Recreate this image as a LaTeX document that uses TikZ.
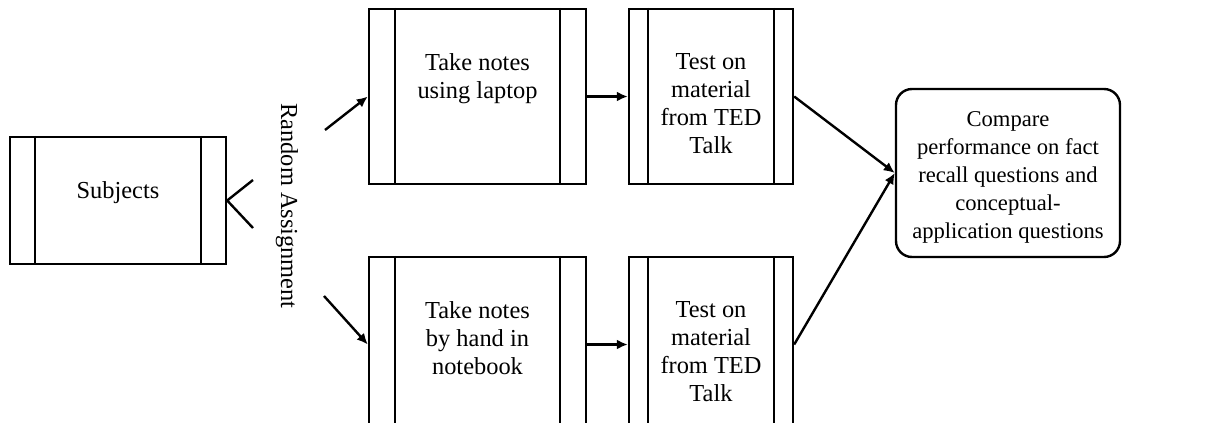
\documentclass[tikz,border=0pt]{standalone}
\usepackage{fontspec}
\setmainfont{Liberation Serif}
\usetikzlibrary{arrows.meta,positioning}
\tikzset{>={Latex[length=5.5pt,width=5pt]}}
\tikzset{proc/.style={draw,inner sep=0pt},
 boxtext/.style={align=center,inner sep=0pt}}

\begin{document}
\begin{tikzpicture}[x=0.5pt,y=-0.5pt,line width=1.2pt,font=\fontsize{12.2}{14}\selectfont]
\useasboundingbox (0,0) rectangle (1212,423);
\clip (0,0) rectangle (1212,423);
\node[proc,minimum width=108pt,minimum height=63.5pt] (subj) at (118,200.5) {};
\node[proc,minimum width=108.5pt,minimum height=87.5pt] (laptop) at (477.5,96.5) {};
\node[proc,minimum width=108.5pt,minimum height=87.5pt] (hand) at (477.5,344.5) {};
\node[proc,minimum width=82pt,minimum height=87.5pt] (test1) at (711,96.5) {};
\node[proc,minimum width=82pt,minimum height=87.5pt] (test2) at (711,344.5) {};
\node[proc,rounded corners=8pt,minimum width=112pt,minimum height=84pt] (cmp) at (1008,173) {};
\foreach \b/\w in {subj/13pt,laptop/13.5pt,hand/13.5pt,test1/10pt,test2/10pt}
 \draw ([xshift=\w]\b.north west) -- ([xshift=\w]\b.south west)
 ([xshift=-\w]\b.north east) -- ([xshift=-\w]\b.south east);
\node[boxtext,below=22.5pt of subj.north] (subjt) {Subjects};
\node[boxtext,below=22.5pt of laptop.north] (laptopt) {Take notes\\using laptop};
\node[boxtext,below=22.5pt of hand.north] (handt) {Take notes\\by hand in\\notebook};
\node[boxtext,below=22.5pt of test1.north] (test1t) {Test on\\material\\from TED\\Talk};
\node[boxtext,below=22.5pt of test2.north] (test2t) {Test on\\material\\from TED\\Talk};
\node[boxtext,below=11.5pt of cmp.north,font=\fontsize{11.3}{13.9}\selectfont] (cmpt)
 {Compare\\performance on fact\\recall questions and\\conceptual-\\application questions};
\node[rotate=-90] (ra) at (287,206) {Random Assignment};
\coordinate (fork1) at (253,180);
\coordinate (fork2) at (253,228);
\coordinate (ra1) at (325,130);
\coordinate (ra2) at (324,296);
\draw (fork1) -- (subj.east) -- (fork2);
\draw[->] (ra1) -- (laptop.west);
\draw[->] (ra2) -- (hand.west);
\draw[->] (laptop) -- (test1);
\draw[->] (hand) -- (test2);
\draw[->] (test1.east) -- (cmp.west);
\draw[->] (test2.east) -- (cmp.west);
\end{tikzpicture}
\end{document}
